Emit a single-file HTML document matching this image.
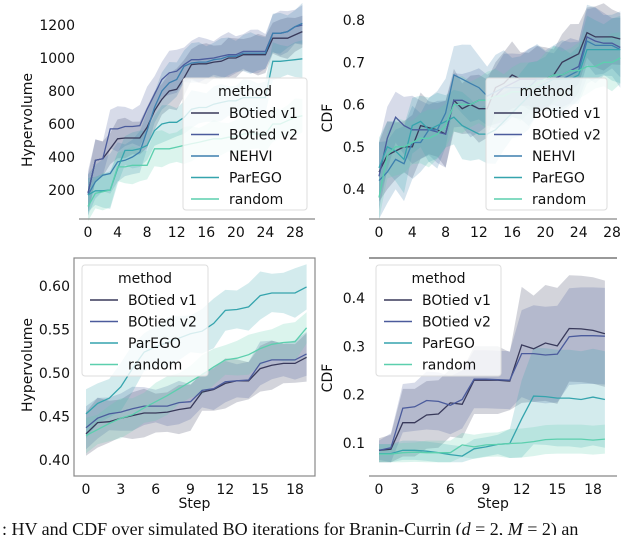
<!DOCTYPE html>
<html><head><meta charset="utf-8"><style>
html,body{margin:0;padding:0;background:#fff;width:640px;height:535px;overflow:hidden;}
svg{display:block;font-family:"DejaVu Sans","Liberation Sans",sans-serif;}
</style></head><body>
<svg id="fig" width="640" height="535" viewBox="0 0 640 535">
<text x="2" y="535" font-family="'Liberation Serif',serif" font-size="18" fill="#111">:  HV and CDF over simulated BO iterations for Branin-Currin (<tspan font-style="italic">d</tspan> = 2, <tspan font-style="italic">M</tspan> = 2) an</text>
</svg>
<script>
// ---- Panel A: Hypervolume (top-left) ----
const stepsA = [...Array(30).keys()];
const aV1 = [180,380,390,450,510,515,515,515,580,680,750,800,810,880,960,965,965,975,980,1000,1000,1020,1020,1020,1020,1120,1120,1120,1140,1160];
const aV2 = [180,380,390,570,570,585,585,590,690,780,870,910,920,960,990,990,995,1000,1010,1020,1020,1040,1040,1040,1040,1150,1150,1160,1190,1200];
const aNE = [170,250,290,300,370,380,400,430,560,700,800,850,870,950,970,975,975,990,995,1010,1010,1030,1030,1030,1030,1150,1150,1160,1190,1210];
const aPE = [170,195,195,200,330,440,440,450,470,560,600,610,610,640,690,700,700,720,730,740,740,760,760,760,760,980,980,985,990,995];
const aRA = [100,180,190,200,340,340,350,350,350,450,450,450,460,470,480,490,500,510,510,520,520,540,540,540,540,600,600,620,640,650];
const aBand = [110,120,110,100,100];
const aXTicks = [0,4,8,12,16,20,24,28];
const aYTicks = [200,400,600,800,1000,1200];
// ---- Panel B: CDF (top-right) ----
const bV1 = [0.44,0.48,0.49,0.50,0.50,0.55,0.545,0.54,0.53,0.61,0.59,0.60,0.59,0.59,0.64,0.65,0.67,0.66,0.66,0.66,0.66,0.67,0.70,0.71,0.72,0.77,0.76,0.76,0.76,0.755];
const bV2 = [0.43,0.52,0.57,0.55,0.54,0.54,0.54,0.535,0.53,0.61,0.61,0.60,0.61,0.61,0.62,0.64,0.65,0.66,0.66,0.66,0.66,0.66,0.67,0.68,0.69,0.76,0.75,0.745,0.745,0.735];
const bNE = [0.42,0.44,0.47,0.46,0.51,0.51,0.54,0.54,0.58,0.67,0.66,0.65,0.64,0.62,0.63,0.64,0.64,0.64,0.64,0.66,0.66,0.66,0.66,0.67,0.68,0.75,0.74,0.74,0.74,0.73];
const bPE = [0.45,0.50,0.49,0.47,0.55,0.56,0.54,0.55,0.56,0.57,0.55,0.54,0.53,0.53,0.54,0.56,0.58,0.60,0.62,0.64,0.65,0.66,0.66,0.66,0.67,0.73,0.73,0.73,0.73,0.73];
const bRA = [0.38,0.48,0.50,0.50,0.51,0.52,0.52,0.53,0.55,0.60,0.60,0.60,0.61,0.61,0.62,0.62,0.63,0.63,0.64,0.65,0.66,0.67,0.67,0.68,0.68,0.69,0.69,0.70,0.70,0.71];
const bBand = [0.07,0.07,0.08,0.07,0.06];
const bXTicks = [0,4,8,12,16,20,24,28];
const bYTicks = [0.4,0.5,0.6,0.7,0.8];
// ---- Panel C: Hypervolume (bottom-left) ----
const stepsC = [...Array(20).keys()];
const cV1 = [0.430,0.443,0.444,0.448,0.451,0.454,0.454,0.455,0.458,0.460,0.478,0.481,0.488,0.491,0.491,0.505,0.509,0.511,0.511,0.518];
const cV2 = [0.437,0.448,0.453,0.455,0.459,0.462,0.462,0.462,0.466,0.467,0.480,0.482,0.490,0.491,0.492,0.511,0.515,0.515,0.515,0.522];
const cPE = [0.453,0.465,0.471,0.484,0.505,0.524,0.530,0.535,0.540,0.545,0.548,0.557,0.572,0.573,0.576,0.589,0.592,0.592,0.592,0.599];
const cRA = [0.428,0.435,0.442,0.448,0.452,0.460,0.467,0.474,0.482,0.490,0.498,0.507,0.515,0.517,0.521,0.528,0.533,0.535,0.536,0.552];
const cBand = [0.025,0.022,0.025,0.02];
const cXTicks = [0,3,6,9,12,15,18];
const cYTicks = [0.40,0.45,0.50,0.55,0.60];
// ---- Panel D: CDF (bottom-right) ----
const dV1 = [0.085,0.087,0.142,0.142,0.158,0.160,0.183,0.180,0.230,0.230,0.230,0.228,0.303,0.295,0.307,0.301,0.337,0.336,0.333,0.326];
const dV2 = [0.085,0.090,0.172,0.175,0.188,0.186,0.178,0.190,0.232,0.232,0.231,0.230,0.285,0.285,0.282,0.284,0.320,0.322,0.322,0.321];
const dPE = [0.078,0.078,0.085,0.085,0.083,0.080,0.076,0.073,0.088,0.092,0.097,0.099,0.150,0.197,0.196,0.193,0.193,0.190,0.195,0.190];
const dRA = [0.077,0.077,0.080,0.081,0.080,0.080,0.080,0.096,0.092,0.096,0.097,0.099,0.100,0.103,0.107,0.108,0.108,0.108,0.106,0.108];
const dV1Half = [0.025,0.03,0.07,0.07,0.07,0.07,0.07,0.07,0.07,0.07,0.07,0.06,0.12,0.11,0.12,0.12,0.11,0.11,0.11,0.11];
const dV2Half = [0.02,0.03,0.05,0.05,0.06,0.06,0.06,0.06,0.06,0.06,0.06,0.06,0.09,0.10,0.10,0.10,0.10,0.10,0.10,0.10];
const dPEHalf = [0.02,0.02,0.02,0.02,0.02,0.02,0.02,0.02,0.02,0.02,0.02,0.03,0.08,0.10,0.10,0.10,0.10,0.10,0.10,0.10];
const dRAHalf = [0.02,0.02,0.02,0.02,0.025,0.025,0.025,0.025,0.025,0.025,0.025,0.03,0.03,0.03,0.03,0.03,0.03,0.03,0.03,0.03];
const dXTicks = [0,3,6,9,12,15,18];
const dYTicks = [0.1,0.2,0.3,0.4];

const NS='http://www.w3.org/2000/svg';
const svg=document.getElementById('fig');
const COL={'BOtied v1':'#38395a','BOtied v2':'#4b5b9c','NEHVI':'#3d7fae','ParEGO':'#35a4ad','random':'#5ccfae'};
function mk(tag,attrs,parent){const e=document.createElementNS(NS,tag);for(const k in attrs)e.setAttribute(k,attrs[k]);(parent||svg).appendChild(e);return e;}

function panel(cfg){
  const g=mk('g',{});
  
  
  const sx=v=>cfg.x0+(v-cfg.xa)*(cfg.x1-cfg.x0)/(cfg.xb-cfg.xa);
  const sy=v=>cfg.y0+(v-cfg.ya)*(cfg.y1-cfg.y0)/(cfg.yb-cfg.ya);
  cfg.series.forEach((s,i)=>{
    const b=cfg.band[i];
    const hw=j=>Array.isArray(b)?b[j]:b*(1+0.15*Math.sin(j*1.7+i));
    let up=cfg.steps.map((t,j)=>`${sx(t).toFixed(1)},${sy(s.v[j]+hw(j)).toFixed(1)}`);
    let lo=cfg.steps.map((t,j)=>`${sx(t).toFixed(1)},${sy(Math.max(cfg.floor??-1e9,s.v[j]-hw(j))).toFixed(1)}`).reverse();
    const p=mk('polygon',{points:up.concat(lo).join(' '),fill:COL[s.k],'fill-opacity':0.22,stroke:'none'},g);
    
    
  });
  cfg.series.forEach(s=>{
    const pts=cfg.steps.map((t,j)=>`${sx(t).toFixed(1)},${sy(s.v[j]).toFixed(1)}`).join(' ');
    const l=mk('polyline',{points:pts,fill:'none',stroke:COL[s.k],'stroke-width':1.3},g);
    
    
  });
  if(cfg.box){
    const r=mk('rect',{x:cfg.bx0,y:cfg.by0,width:cfg.bx1-cfg.bx0,height:cfg.by1-cfg.by0,fill:'none',stroke:'#888','stroke-width':1.2},g);
    
    
  } else {
    const a=mk('line',{x1:cfg.bx0,x2:cfg.bx1,y1:cfg.by1,y2:cfg.by1,stroke:'#888','stroke-width':1.2},g);
    
    
    if(cfg.topLine){
      const t=mk('line',{x1:cfg.bx0,x2:cfg.bx1,y1:cfg.by0,y2:cfg.by0,stroke:'#999','stroke-width':2},g);
      
      
    }
  }
  cfg.xt.forEach(v=>{
    const t=mk('text',{x:sx(v),y:cfg.by1+18,'text-anchor':'middle','font-size':14,fill:'#111'},g);
    t.textContent=v;
    
    
  });
  cfg.yt.forEach(v=>{
    const t=mk('text',{x:cfg.bx0-4,y:sy(v)+5,'text-anchor':'end','font-size':14,fill:'#111'},g);
    t.textContent=cfg.fmt(v);
    
    
  });
  const yl=mk('text',{x:cfg.ylx,y:cfg.yly,'text-anchor':'middle','font-size':14,fill:'#111',transform:`rotate(-90 ${cfg.ylx} ${cfg.yly})`},g);
  yl.textContent=cfg.ylab;
  
  
  if(cfg.step){
    const st=mk('text',{x:(cfg.bx0+cfg.bx1)/2,y:508,'text-anchor':'middle','font-size':14,fill:'#111'},g);
    st.textContent='Step';
    
    
  }
  const L=cfg.leg;
  const lg=mk('g',{},g);
  
  
  mk('rect',{x:L.x,y:L.y,width:L.w,height:L.h,rx:3,fill:'#fff','fill-opacity':0.8,stroke:'#ddd'},lg);
  const tt=mk('text',{x:L.x+L.w/2,y:L.y+18,'text-anchor':'middle','font-size':14,fill:'#111'},lg);
  tt.textContent='method';
  cfg.series.forEach((s,i)=>{
    const yy=L.y+40+i*21.5;
    const e=mk('g',{},lg);
    
    
    mk('line',{x1:L.x+8,x2:L.x+36,y1:yy-5,y2:yy-5,stroke:COL[s.k],'stroke-width':1.5},e);
    const tx=mk('text',{x:L.x+46,y:yy,'font-size':14,fill:'#111'},e);
    tx.textContent=s.k;
  });
}

panel({name:'hv-panel-top',steps:stepsA,xa:0,xb:28,x0:88,x1:295,ya:200,yb:1200,y0:190,y1:25,
  series:[{k:'BOtied v1',v:aV1},{k:'BOtied v2',v:aV2},{k:'NEHVI',v:aNE},{k:'ParEGO',v:aPE},{k:'random',v:aRA}],band:aBand,
  bx0:79,bx1:315,by0:10,by1:219,xt:aXTicks,yt:aYTicks,fmt:v=>v,ylab:'Hypervolume',ylx:32,yly:120,
  leg:{x:183,y:78,w:124,h:132}});
panel({name:'cdf-panel-top',steps:stepsA,xa:0,xb:28,x0:379,x1:612,ya:0.4,yb:0.8,y0:189,y1:20,
  series:[{k:'BOtied v1',v:bV1},{k:'BOtied v2',v:bV2},{k:'NEHVI',v:bNE},{k:'ParEGO',v:bPE},{k:'random',v:bRA}],band:bBand,
  bx0:369,bx1:617,by0:10,by1:219,xt:bXTicks,yt:bYTicks,fmt:v=>v.toFixed(1),ylab:'CDF',ylx:332,yly:118,
  leg:{x:486,y:78,w:121,h:132}});
panel({name:'hv-panel-bottom',steps:stepsC,xa:0,xb:18,x0:86,x1:295,ya:0.4,yb:0.6,y0:460,y1:286,box:true,step:true,floor:0.392,
  series:[{k:'BOtied v1',v:cV1},{k:'BOtied v2',v:cV2},{k:'ParEGO',v:cPE},{k:'random',v:cRA}],band:cBand,
  bx0:74,bx1:315,by0:258,by1:476,xt:cXTicks,yt:cYTicks,fmt:v=>v.toFixed(2),ylab:'Hypervolume',ylx:32,yly:365,
  leg:{x:82,y:265,w:126,h:111}});
panel({name:'cdf-panel-bottom',steps:stepsC,xa:0,xb:18,x0:379,x1:593,ya:0.1,yb:0.4,y0:443,y1:298,topLine:true,step:true,floor:0.06,
  series:[{k:'BOtied v1',v:dV1},{k:'BOtied v2',v:dV2},{k:'ParEGO',v:dPE},{k:'random',v:dRA}],band:[dV1Half,dV2Half,dPEHalf,dRAHalf],
  bx0:369,bx1:617,by0:258,by1:476,xt:dXTicks,yt:dYTicks,fmt:v=>v.toFixed(1),ylab:'CDF',ylx:332,yly:378,
  leg:{x:376,y:265,w:125,h:111}});
</script>
</body></html>
